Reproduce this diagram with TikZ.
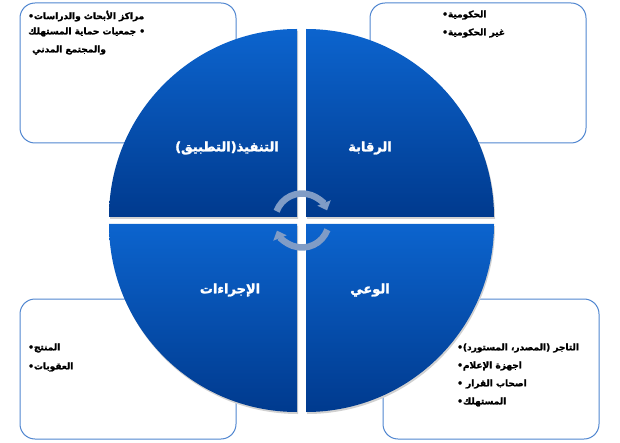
\documentclass[tikz,border=0pt]{standalone}
\usepackage{fontspec}
\usetikzlibrary{arrows.meta}
\TeXXeTstate=1
\newfontfamily\arabicfont[Script=Arabic,FakeBold=2]{DejaVu Sans}
\newfontfamily\arabicfontb[Script=Arabic,FakeBold=1.6]{DejaVu Sans}
\definecolor{qtop}{RGB}{12,100,206}
\definecolor{qbot}{RGB}{0,58,142}
\definecolor{boxline}{RGB}{80,134,208}
\definecolor{arrowc}{RGB}{128,156,198}
\tikzset{
  infobox/.style={draw=boxline,line width=1pt,fill=white,rounded corners=15pt},
  quad/.style={top color=qtop,bottom color=qbot,draw=none},
  qshadow/.style={fill=black!18},
  qlabel/.style={font=\arabicfont\bfseries\fontsize{13}{15}\selectfont,text=white,inner sep=0pt},
  itemtext/.style={font=\arabicfontb\bfseries\fontsize{9}{11}\selectfont,text=black,anchor=west,inner sep=0pt},
  cyclearrow/.style={draw=arrowc,line width=6.5pt,-{Triangle[width=14pt,length=8pt]}}
}
\begin{document}
\begin{tikzpicture}[x=1pt,y=1pt]
\useasboundingbox (0,0) rectangle (620,442);
% boxes
\draw[infobox] (20,299) rectangle (236,439);
\draw[infobox] (370,299) rectangle (586,439);
\draw[infobox] (20,3) rectangle (236,143);
\draw[infobox] (383,3) rectangle (599,143);
% shadows
\fill[qshadow] (298,223) -- ++(-188,0) arc[start angle=180,end angle=90,radius=188] -- cycle;
\fill[qshadow] (307,223) -- ++(0,188) arc[start angle=90,end angle=0,radius=188] -- cycle;
\fill[qshadow] (298,216) -- ++(-188,0) arc[start angle=180,end angle=270,radius=188] -- cycle;
\fill[qshadow] (307,216) -- ++(188,0) arc[start angle=0,end angle=-90,radius=188] -- cycle;
% quadrants
\shade[quad] (297,225) -- ++(-188,0) arc[start angle=180,end angle=90,radius=188] -- cycle;
\shade[quad] (306,225) -- ++(0,188) arc[start angle=90,end angle=0,radius=188] -- cycle;
\shade[quad] (297,218) -- ++(-188,0) arc[start angle=180,end angle=270,radius=188] -- cycle;
\shade[quad] (306,218) -- ++(188,0) arc[start angle=0,end angle=-90,radius=188] -- cycle;
% labels
\node[qlabel] (l1) at (227,294) {\beginR التنفيذ(التطبيق)\endR};
\node[qlabel] (l2) at (370,294) {\beginR الرقابة\endR};
\node[qlabel] (l3) at (230,152) {\beginR الإجراءات\endR};
\node[qlabel] (l4) at (370,152) {\beginR الوعي\endR};
% cycle arrows
\coordinate (cc) at (302,221.5);
\draw[cyclearrow] ([shift={(160:27)}]cc) arc[start angle=160,end angle=22,radius=27];
\draw[cyclearrow] ([shift={(-20:27)}]cc) arc[start angle=-20,end angle=-158,radius=27];
% box texts
\node[itemtext] (a1) at (28,426) {\beginR مراكز الأبحاث والدراسات•\endR};
\node[itemtext] (a2) at (28,410) {\beginR • جمعيات حماية المستهلك\endR};
\node[itemtext] (a3) at (32,392) {\beginR والمجتمع المدني\endR};
\node[itemtext] (b1) at (442,427) {\beginR الحكومية•\endR};
\node[itemtext] (b2) at (442,409) {\beginR غير الحكومية•\endR};
\node[itemtext] (c1) at (28,94) {\beginR المنتج•\endR};
\node[itemtext] (c2) at (28,75) {\beginR العقوبات•\endR};
\node[itemtext] (d1) at (457,94) {\beginR التاجر (المصدر، المستورد)•\endR};
\node[itemtext] (d2) at (457,76) {\beginR اجهزة الإعلام•\endR};
\node[itemtext] (d3) at (457,58) {\beginR اصحاب القرار •\endR};
\node[itemtext] (d4) at (457,40) {\beginR المستهلك•\endR};
\end{tikzpicture}
\end{document}
